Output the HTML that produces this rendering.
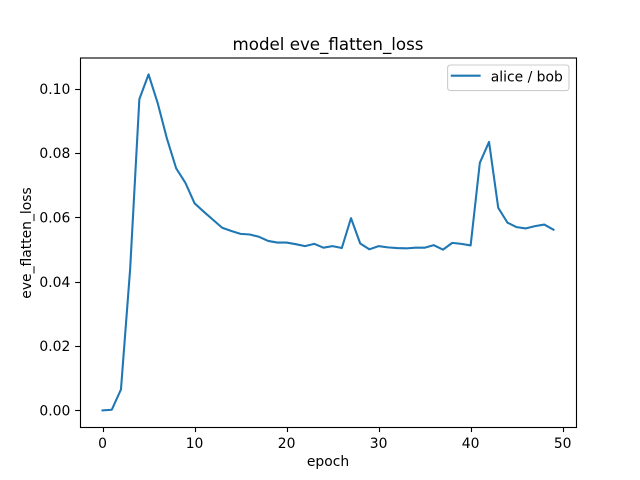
<!DOCTYPE html>
<html>
<head>
<meta charset="utf-8">
<style>
html,body{margin:0;padding:0;background:#fff;width:640px;height:480px;overflow:hidden}
svg{display:block}
text{font-family:"DejaVu Sans",sans-serif;fill:#000}
</style>
</head>
<body>
<svg id="chart" width="640" height="480" viewBox="0 0 640 480" xmlns="http://www.w3.org/2000/svg">
  <rect x="0" y="0" width="640" height="480" fill="#fff"/>
  <g id="ticks"></g>
  <path id="series" fill="none" stroke="#1f77b4" stroke-width="2.08" stroke-linejoin="round" stroke-linecap="square"/>
  <rect x="80.5" y="58" width="496" height="369.5" fill="none" stroke="#000" stroke-width="1.11"/>
  <text x="328" y="50" font-size="16.67" text-anchor="middle">model eve_flatten_loss</text>
  <text x="328" y="466" font-size="13.89" text-anchor="middle">epoch</text>
  <text x="0" y="0" font-size="13.89" text-anchor="middle" transform="translate(31 243) rotate(-90)">eve_flatten_loss</text>
  <g>
    <rect x="447.6" y="65" width="121.4" height="25.6" rx="2.8" ry="2.8" fill="#fff" fill-opacity="0.8" stroke="#ccc" stroke-width="1.11"/>
    <line x1="451.8" y1="75.7" x2="479.6" y2="75.7" stroke="#1f77b4" stroke-width="2.08" stroke-linecap="square"/>
    <text x="490.8" y="81.7" font-size="13.89">alice / bob</text>
  </g>
</svg>
<script>
const epochs = [0,1,2,3,4,5,6,7,8,9,10,11,12,13,14,15,16,17,18,19,20,21,22,23,24,25,26,27,28,29,30,31,32,33,34,35,36,37,38,39,40,41,42,43,44,45,46,47,48,49];
const lossValues = [0,0.0002,0.0065,0.044,0.0968,0.1045,0.0955,0.0845,0.0753,0.0708,0.0644,0.0618,0.0593,0.0568,0.0558,0.0549,0.0547,0.054,0.0527,0.0522,0.0522,0.0517,0.0511,0.0518,0.0506,0.0511,0.0505,0.0598,0.0519,0.0501,0.0511,0.0507,0.0505,0.0504,0.0506,0.0506,0.0514,0.05,0.0521,0.0518,0.0513,0.077,0.0835,0.063,0.0584,0.057,0.0566,0.0573,0.0578,0.0562];
const xTickValues = [0,10,20,30,40,50];
const xTickLabels = ["0","10","20","30","40","50"];
const yTickValues = [0,0.02,0.04,0.06,0.08,0.1];
const yTickLabels = ["0.00","0.02","0.04","0.06","0.08","0.10"];

const xScale = v => 102.545 + v * 9.2022;
const yScale = v => 410.4 - v * 3215.3;
const svgNS = "http://www.w3.org/2000/svg";
const ticksGroup = document.getElementById("ticks");

function drawLine(x1, y1, x2, y2) {
  const el = document.createElementNS(svgNS, "line");
  el.setAttribute("x1", x1);
  el.setAttribute("y1", y1);
  el.setAttribute("x2", x2);
  el.setAttribute("y2", y2);
  el.setAttribute("stroke", "#000");
  el.setAttribute("stroke-width", "1.11");
  ticksGroup.appendChild(el);
  return el;
}
function drawLabel(x, y, anchor, content) {
  const el = document.createElementNS(svgNS, "text");
  el.setAttribute("x", x);
  el.setAttribute("y", y);
  el.setAttribute("font-size", "13.89");
  el.setAttribute("text-anchor", anchor);
  el.textContent = content;
  ticksGroup.appendChild(el);
  return el;
}

xTickValues.forEach((v, i) => {
  const x = Math.round(xScale(v)) + 0.5;
  const mark = drawLine(x, 427.2, x, 432.06);
  
  
  const label = drawLabel(xScale(v), 448, "middle", xTickLabels[i]);
  
  
});
yTickValues.forEach((v, i) => {
  const y = Math.round(yScale(v)) + 0.5;
  const mark = drawLine(75.14, y, 80, y);
  
  
  const label = drawLabel(70.3, yScale(v) + 5, "end", yTickLabels[i]);
  
  
});
document.getElementById("series").setAttribute("d",
  lossValues.map((v, i) => (i ? "L" : "M") + xScale(epochs[i]).toFixed(2) + " " + yScale(v).toFixed(2)).join(" "));
</script>
</body>
</html>
